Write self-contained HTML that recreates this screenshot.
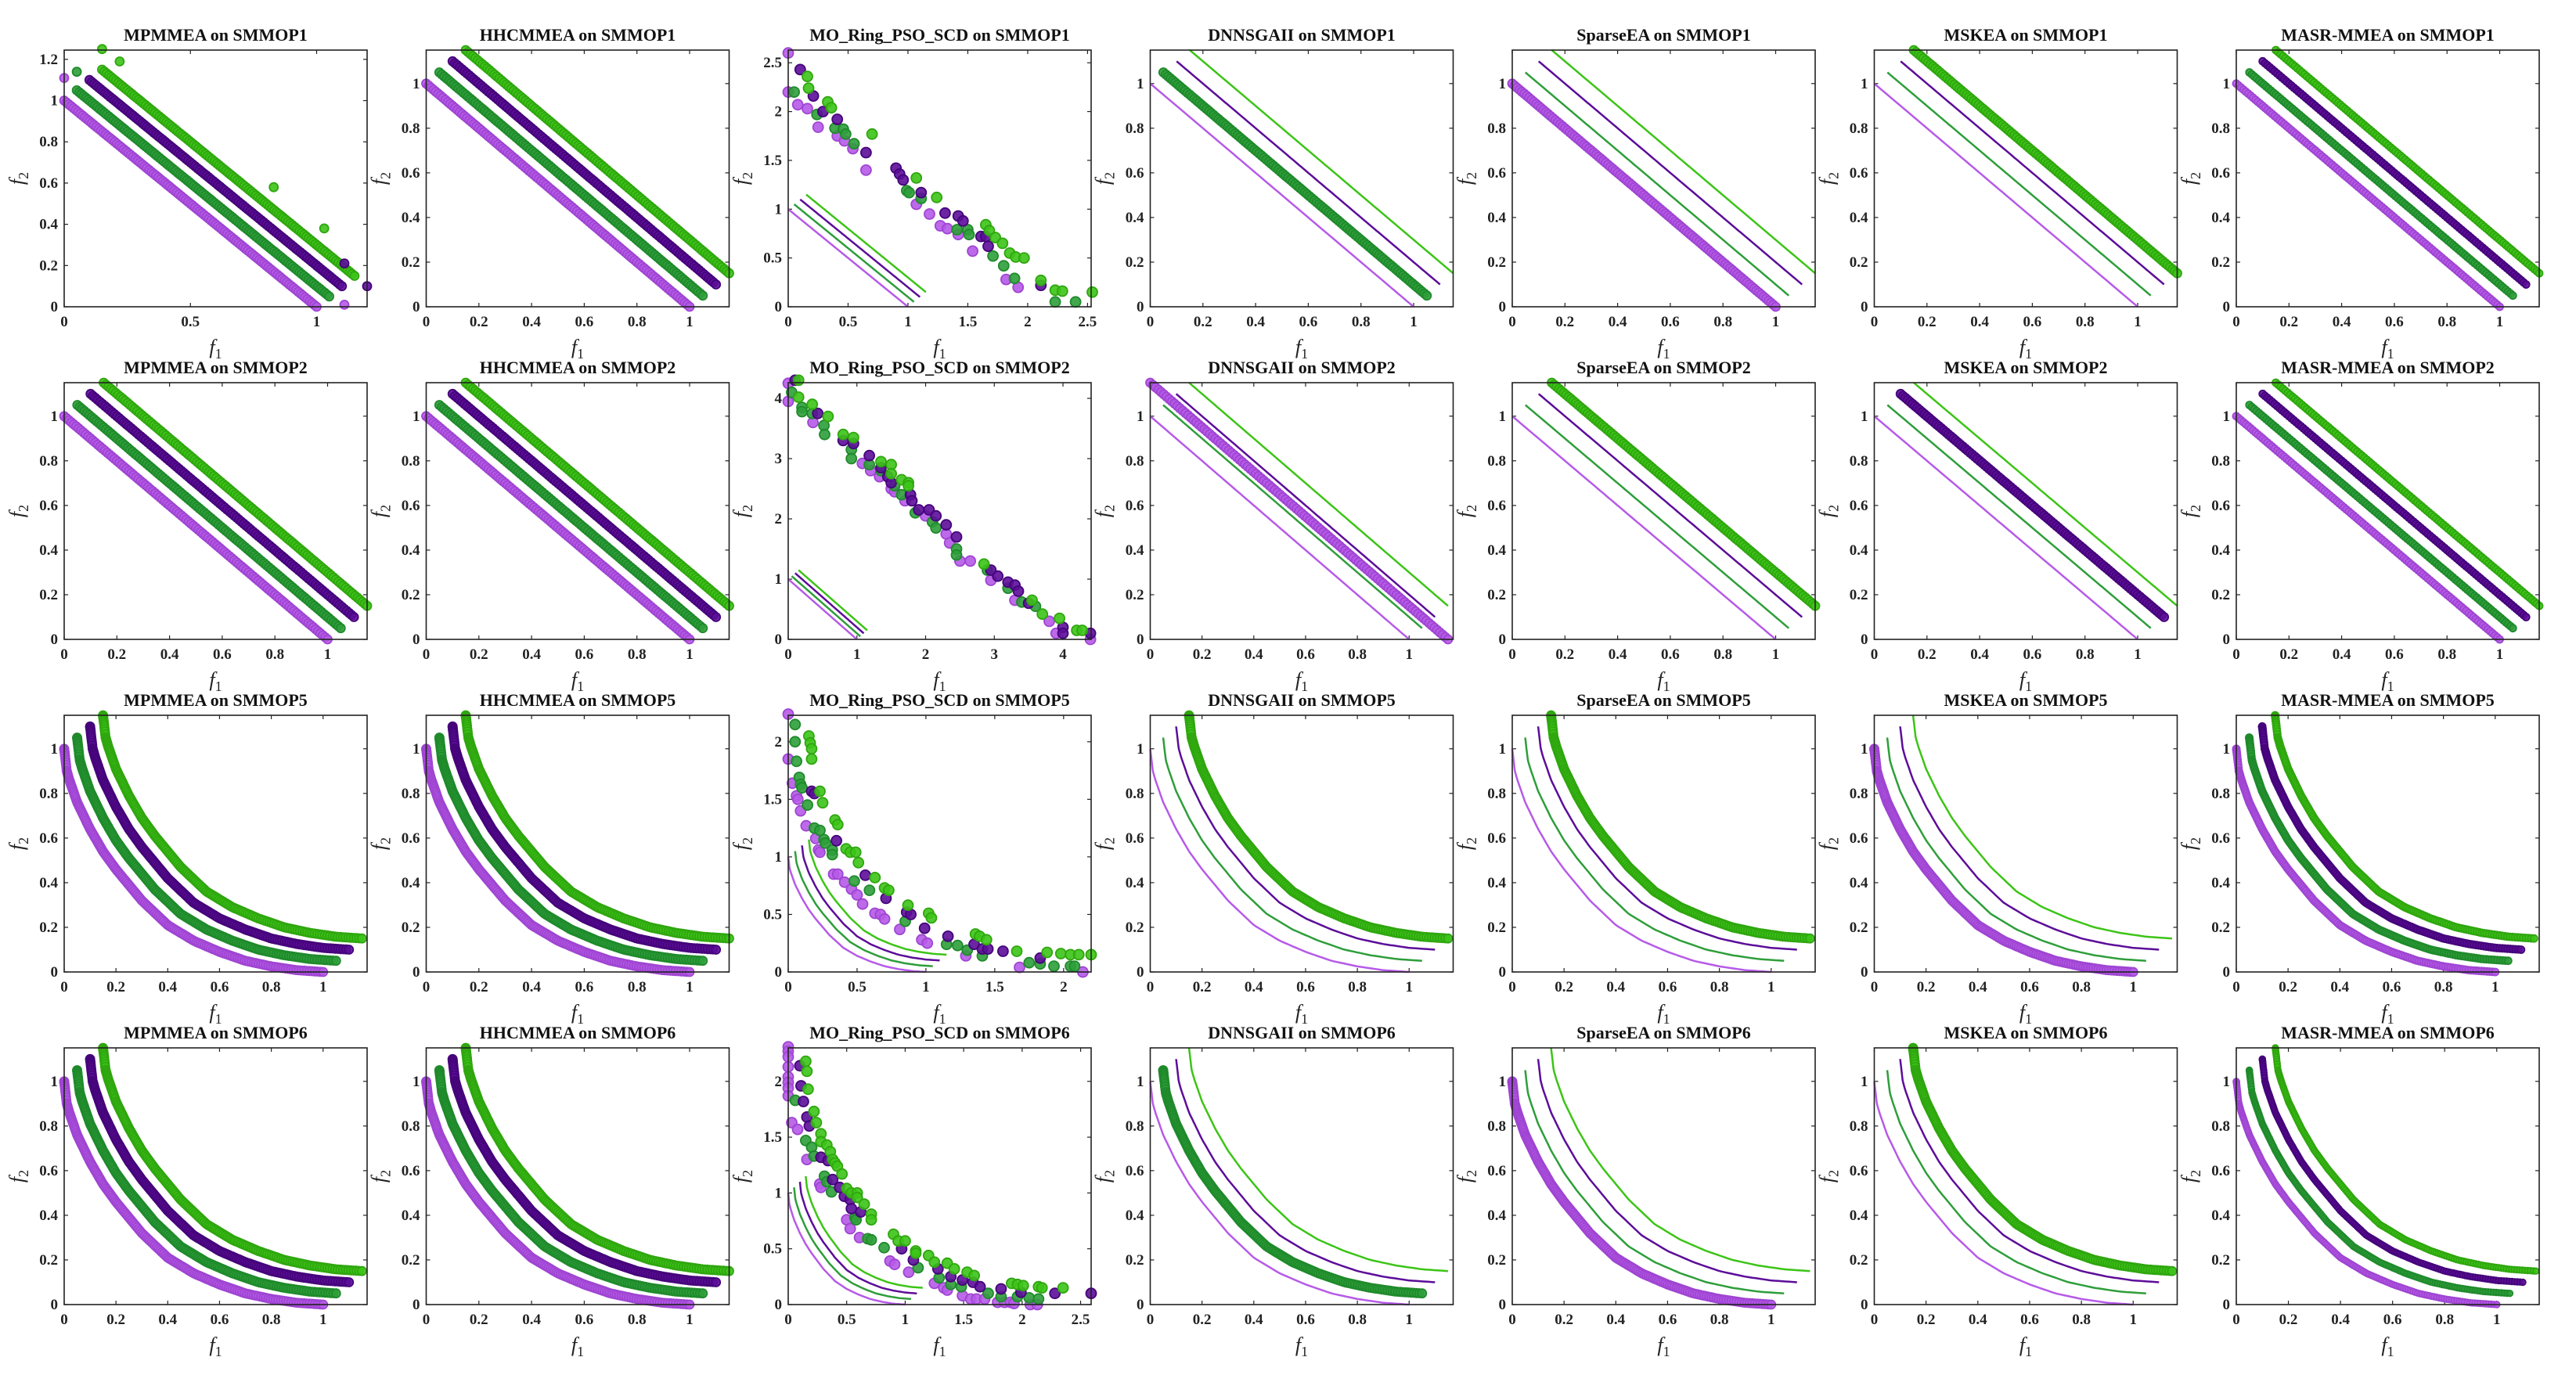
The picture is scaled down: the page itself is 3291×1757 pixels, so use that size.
<!DOCTYPE html>
<html><head><meta charset="utf-8"><title>Pareto fronts</title>
<style>
html,body{margin:0;padding:0;background:#fff;}
svg{display:block;font-family:"Liberation Serif","DejaVu Serif",serif;}
</style></head>
<body>
<svg id="fig" xmlns="http://www.w3.org/2000/svg" width="3291" height="1757" viewBox="0 0 3291 1757"></svg>
<script>
const algos=['MPMMEA','HHCMMEA','MO_Ring_PSO_SCD','DNNSGAII','SparseEA','MSKEA','MASR-MMEA'];
const problems=['SMMOP1','SMMOP2','SMMOP5','SMMOP6'];
const offsets=[0,0.05,0.1,0.15];
const fills=['#b65ae8','#2e9e3a','#5c0d99','#3cc417'];
const strokes=['#9f45d2','#1f8a2b','#45047a','#2fa60f'];
const lineT=[0,1];
const lineY=[1,0];
const cvxT=[0,0.01,0.02,0.05,0.1,0.15,0.2,0.3,0.4,0.5,0.6,0.7,0.8,0.9,1];
const cvxY=[1,0.9,0.86,0.76,0.64,0.54,0.46,0.32,0.21,0.14,0.09,0.05,0.025,0.008,0];
const xMax=[[1.2,1.15,2.53,1.15,1.15,1.15,1.15],[1.15,1.15,4.41,1.17,1.15,1.15,1.15],[1.17,1.15,2.2,1.17,1.17,1.17,1.17],[1.17,1.15,2.59,1.17,1.17,1.17,1.163]];
const yMax=[[1.245,1.15,2.63,1.15,1.15,1.15,1.15],[1.15,1.15,4.26,1.15,1.15,1.15,1.15],[1.15,1.15,2.23,1.15,1.15,1.15,1.15],[1.15,1.15,2.3,1.15,1.15,1.15,1.15]];
const circleSpec=[
 [[0,1,2,3],[0,1,2,3],[],[1],[0],[3],[0,1,2,3]],
 [[0,1,2,3],[0,1,2,3],[],['S'],[3],[2],[0,1,2,3]],
 [[0,1,2,3],[0,1,2,3],[],[3],[3],[0],[0,1,2,3]],
 [[0,1,2,3],[0,1,2,3],[],[1],[0],[3],[0,1,2,3]]];
const markerR=[5.5,5.5,6.5,5.5,5.5,5.5,4.5];
const mpOutliers=[[3,0.15,1.25],[3,0.22,1.19],[3,0.83,0.58],[3,1.03,0.38],[2,1.2,0.1],[2,1.11,0.21],[0,0,1.11],[0,1.11,0.01],[1,0.05,1.14]];
const mo1LP=[[0,2.6],[0,2.2],[0.08,2.07],[0.16,2.03],[0.25,1.84],[0.41,1.75],[0.47,1.7],[0.54,1.62],[0.65,1.4],[1.07,1.05],[1.18,0.95],[1.27,0.83],[1.33,0.8],[1.42,0.74],[1.54,0.57],[1.82,0.28],[1.92,0.2]];
const mo1DG=[[0.05,2.2],[0.24,1.97],[0.39,1.83],[0.46,1.82],[0.48,1.77],[0.55,1.67],[0.99,1.19],[1.01,1.17],[1.11,1.11],[1.41,0.79],[1.5,0.79],[1.51,0.74],[1.71,0.52],[1.8,0.42],[1.89,0.29],[2.23,0.05],[2.4,0.05]];
const mo1DP=[[0.1,2.43],[0.21,2.16],[0.29,2.0],[0.41,1.92],[0.65,1.58],[0.9,1.42],[0.93,1.36],[0.96,1.3],[1.11,1.17],[1.31,0.96],[1.42,0.93],[1.46,0.88],[1.61,0.72],[1.65,0.72],[1.67,0.62],[2.11,0.22]];
const mo1LG=[[0.16,2.36],[0.17,2.24],[0.33,2.1],[0.36,2.04],[0.7,1.77],[1.07,1.32],[1.24,1.12],[1.65,0.84],[1.68,0.78],[1.73,0.71],[1.79,0.65],[1.85,0.55],[1.9,0.51],[1.97,0.5],[2.11,0.27],[2.23,0.17],[2.29,0.16],[2.54,0.15]];
const mo2LP=[[0,4.25],[0,3.95],[0.36,3.6],[1.08,2.92],[1.2,2.8],[1.33,2.7],[1.5,2.5],[1.55,2.45],[1.7,2.3],[2.0,2.05],[2.3,1.75],[2.35,1.6],[2.5,1.3],[2.65,1.3],[2.95,0.98],[3.3,0.65],[3.8,0.3],[3.9,0.1],[4.4,0]];
const mo2DG=[[0.05,4.1],[0.2,3.85],[0.2,3.78],[0.35,3.75],[0.52,3.55],[0.53,3.4],[0.92,3.15],[0.92,3.0],[1.18,2.9],[1.35,2.8],[1.55,2.55],[1.65,2.4],[1.85,2.1],[2.1,1.95],[2.15,1.85],[2.45,1.5],[2.45,1.4],[2.9,1.15],[3.2,0.85],[3.4,0.62],[3.6,0.55]];
const mo2DP=[[0.1,4.3],[0.43,3.75],[0.8,3.3],[0.95,3.25],[1.18,3.05],[1.35,2.85],[1.45,2.7],[1.5,2.6],[1.78,2.4],[1.8,2.3],[1.9,2.15],[2.05,2.15],[2.15,2.05],[2.3,1.9],[2.45,1.7],[2.95,1.15],[3.05,1.05],[3.2,0.95],[3.3,0.9],[3.35,0.8],[3.5,0.6],[4.0,0.2],[4.0,0.1],[4.4,0.1]];
const mo2LG=[[0.15,4.3],[0.15,4.02],[0.35,3.9],[0.58,3.7],[0.8,3.4],[0.95,3.35],[1.35,2.95],[1.5,2.9],[1.5,2.75],[1.65,2.65],[1.75,2.6],[1.75,2.55],[2.85,1.25],[3.55,0.65],[3.7,0.42],[3.95,0.35],[4.2,0.15],[4.28,0.15]];
const mo5LP=[[0,2.24],[0,1.85],[0.03,1.64],[0.06,1.53],[0.07,1.5],[0.09,1.4],[0.13,1.27],[0.2,1.16],[0.22,1.06],[0.23,1.04],[0.33,0.85],[0.36,0.85],[0.41,0.78],[0.46,0.72],[0.5,0.67],[0.54,0.59],[0.63,0.51],[0.67,0.5],[0.7,0.46],[0.81,0.37],[0.97,0.28],[1.01,0.25],[1.29,0.14],[1.68,0.04],[2.14,0]];
const mo5DG=[[0.05,2.15],[0.05,2.0],[0.06,1.83],[0.08,1.69],[0.09,1.63],[0.1,1.6],[0.14,1.45],[0.19,1.25],[0.23,1.23],[0.26,1.15],[0.27,1.12],[0.32,1.06],[0.32,1.02],[0.48,0.79],[0.59,0.71],[0.85,0.44],[1.15,0.24],[1.23,0.23],[1.3,0.19],[1.41,0.14],[1.75,0.08],[1.83,0.07],[1.93,0.05],[2.05,0.05],[2.08,0.05]];
const mo5DP=[[0.17,1.57],[0.19,1.55],[0.35,1.14],[0.56,0.84],[0.71,0.64],[0.86,0.52],[0.89,0.5],[0.99,0.38],[1.16,0.31],[1.35,0.24],[1.41,0.2],[1.45,0.2],[1.56,0.18],[1.83,0.12]];
const mo5LG=[[0.15,2.05],[0.16,1.99],[0.17,1.94],[0.17,1.85],[0.23,1.57],[0.25,1.47],[0.34,1.32],[0.36,1.28],[0.42,1.07],[0.45,1.04],[0.49,1.04],[0.51,0.95],[0.63,0.82],[0.7,0.73],[0.73,0.71],[0.87,0.58],[1.02,0.51],[1.04,0.47],[1.36,0.33],[1.39,0.31],[1.44,0.28],[1.66,0.18],[1.88,0.17],[1.98,0.16],[2.05,0.15],[2.11,0.15],[2.2,0.15]];
const mo6LP=[[0,2.31],[0,2.27],[0,2.22],[0,2.13],[0,2.04],[0,1.99],[0,1.94],[0,1.87],[0.03,1.63],[0.08,1.57],[0.16,1.3],[0.27,1.08],[0.28,1.05],[0.5,0.76],[0.53,0.68],[0.61,0.6],[0.87,0.39],[0.91,0.36],[1.03,0.29],[1.25,0.19],[1.33,0.15],[1.36,0.13],[1.49,0.08],[1.56,0.05],[1.61,0.05],[1.68,0.05],[1.79,0.02],[1.85,0.02],[1.9,0.02],[1.93,0.01],[2.07,0],[2.13,0]];
const mo6DG=[[0.06,1.83],[0.15,1.47],[0.2,1.41],[0.22,1.33],[0.31,1.15],[0.33,1.1],[0.37,1.01],[0.57,0.78],[0.58,0.76],[0.68,0.59],[0.71,0.58],[0.82,0.51],[1.11,0.33],[1.29,0.24],[1.39,0.18],[1.48,0.16],[1.71,0.1],[1.82,0.07],[1.96,0.07],[2.06,0.06],[2.14,0.05]];
const mo6DP=[[0.1,2.14],[0.11,1.96],[0.13,1.82],[0.16,1.68],[0.18,1.6],[0.28,1.32],[0.34,1.29],[0.38,1.12],[0.44,1.05],[0.48,0.97],[0.53,0.94],[0.54,0.86],[0.62,0.83],[0.97,0.5],[1.07,0.4],[1.28,0.32],[1.39,0.25],[1.49,0.22],[1.58,0.2],[1.64,0.16],[1.82,0.14],[1.99,0.11],[2.28,0.1],[2.59,0.1]];
const mo6LG=[[0.15,2.18],[0.16,2.09],[0.17,1.93],[0.22,1.73],[0.24,1.63],[0.28,1.53],[0.28,1.46],[0.33,1.43],[0.36,1.37],[0.38,1.3],[0.4,1.27],[0.42,1.24],[0.46,1.17],[0.5,1.04],[0.54,1.0],[0.59,1.0],[0.59,0.96],[0.65,0.9],[0.71,0.81],[0.71,0.76],[0.9,0.63],[0.94,0.57],[1.0,0.57],[1.09,0.48],[1.09,0.46],[1.2,0.44],[1.25,0.38],[1.36,0.37],[1.42,0.32],[1.53,0.29],[1.59,0.26],[1.91,0.19],[1.96,0.18],[2.01,0.17],[2.14,0.16],[2.17,0.15],[2.35,0.15]];
const moData=[[mo1LP,mo1DG,mo1DP,mo1LG],[mo2LP,mo2DG,mo2DP,mo2LG],[mo5LP,mo5DG,mo5DP,mo5LG],[mo6LP,mo6DG,mo6DP,mo6LG]];

const NS='http://www.w3.org/2000/svg';
const svg=document.getElementById('fig');
function mk(tag,attrs,parent){const e=document.createElementNS(NS,tag);for(const k in attrs)e.setAttribute(k,attrs[k]);(parent||svg).appendChild(e);return e;}
function interp(T,Y,t){if(t<=T[0])return Y[0];for(let i=1;i<T.length;i++){if(t<=T[i]){const f=(t-T[i-1])/(T[i]-T[i-1]);return Y[i-1]+f*(Y[i]-Y[i-1]);}}return Y[Y.length-1];}
function fmt(v){return String(Math.round(v*100)/100);}
function ticks(max,step){const a=[];for(let v=0;v<=max+1e-9;v+=step)a.push(Math.round(v*100)/100);return a;}

const W=387,H=328;
for(let r=0;r<4;r++){
 for(let c=0;c<7;c++){
  const left=82+c*462.5, top=64+r*425;
  const xm=xMax[r][c], ym=yMax[r][c];
  const sx=v=>left+v/xm*W, sy=v=>top+H-v/ym*H;
  const g=mk('g',{});
  
  
  const ttl=mk('text',{x:left+W/2,y:top-12,'text-anchor':'middle','font-size':22,'font-weight':'bold',fill:'#111'},g);
  ttl.textContent=algos[c]+' on '+problems[r];
  
  
  let xt,yt;
  if(c===2){const st=(r===1)?1:0.5;xt=ticks(xm,st);yt=ticks(ym,st);}
  else if(r===0&&c===0){xt=[0,0.5,1];yt=ticks(1.2,0.2);}
  else {xt=ticks(1,0.2);yt=ticks(1,0.2);}
  xt.forEach(v=>{const x=sx(v);
   mk('line',{x1:x,y1:top+H,x2:x,y2:top+H-5,stroke:'#222','stroke-width':1.2},g);
   mk('line',{x1:x,y1:top,x2:x,y2:top+5,stroke:'#222','stroke-width':1.2},g);
   const t=mk('text',{x:x,y:top+H+25,'text-anchor':'middle','font-size':19,'font-weight':'bold',fill:'#222'},g);t.textContent=fmt(v);
   
   });
  yt.forEach(v=>{const y=sy(v);
   mk('line',{x1:left,y1:y,x2:left+5,y2:y,stroke:'#222','stroke-width':1.2},g);
   mk('line',{x1:left+W,y1:y,x2:left+W-5,y2:y,stroke:'#222','stroke-width':1.2},g);
   const t=mk('text',{x:left-8,y:y+6,'text-anchor':'end','font-size':19,'font-weight':'bold',fill:'#222'},g);t.textContent=fmt(v);
   
   });
  const xl=mk('text',{x:left+W/2,y:top+H+60,'text-anchor':'middle','font-size':26,'font-style':'italic',fill:'#222'},g);
  xl.innerHTML='f<tspan font-style="normal" font-size="18" dy="6">1</tspan>';
  
  
  const ylx=left-52, yly=top+H/2;
  const yl=mk('text',{x:ylx,y:yly,'text-anchor':'middle','font-size':26,'font-style':'italic',fill:'#222',transform:'rotate(-90 '+ylx+' '+yly+')'},g);
  yl.innerHTML='f<tspan font-style="normal" font-size="18" dy="6">2</tspan>';
  
  
  const convex=r>=2;
  const T=convex?cvxT:lineT, Y=convex?cvxY:lineY;
  for(let k=0;k<4;k++){
   const off=offsets[k];let d='';
   for(let i=0;i<=120;i++){const t=Math.pow(i/120,convex?1.8:1);const x=sx(off+t),y=sy(off+interp(T,Y,t));d+=(i?'L':'M')+x.toFixed(1)+' '+y.toFixed(1);}
   const p=mk('path',{d:d,fill:'none',stroke:fills[k],'stroke-width':2.5},g);
   
   
  }
  const R=(r===3&&c===6)?3.8:markerR[c];
  function dot(k,x,y,rad){const e=mk('circle',{cx:sx(x).toFixed(1),cy:sy(y).toFixed(1),r:rad,fill:fills[k],stroke:strokes[k],'stroke-width':1.8,'fill-opacity':0.9},g);
   
   }
  if(c===2){
   moData[r].forEach((arr,k)=>arr.forEach(p=>dot(k,p[0],p[1],R)));
  } else {
   circleSpec[r][c].forEach(k=>{
    if(k==='S'){for(let i=0;i<=110;i++){const t=-0.075+i/110*1.15;dot(0,0.075+t,0.075+1-t,R);}return;}
    const off=offsets[k];
    const N=convex?170:110;
    for(let i=0;i<=N;i++){const t=Math.pow(i/N,convex?1.8:1);dot(k,off+t,off+interp(T,Y,t),R);}
   });
   if(r===0&&c===0)mpOutliers.forEach(o=>dot(o[0],o[1],o[2],R));
  }
  const box=mk('rect',{x:left,y:top,width:W,height:H,fill:'none',stroke:'#222','stroke-width':1.6},g);
  
  
 }
}
</script>
</body></html>
